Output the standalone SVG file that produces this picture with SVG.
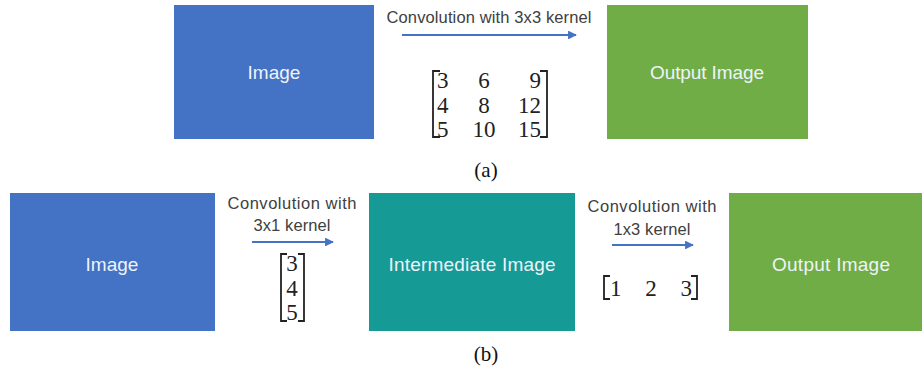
<svg xmlns="http://www.w3.org/2000/svg" width="923" height="374" viewBox="0 0 923 374">
<style>
  .blue{fill:#4472C4}
  .teal{fill:#169A95}
  .green{fill:#70AD47}
  .box-label{font-family:"Liberation Sans","Open Sans",sans-serif;font-size:19px;fill:#EEF3FA;text-anchor:middle}
  .op{font-family:"Liberation Sans","Open Sans",sans-serif;font-size:16.5px;fill:#404040;text-anchor:middle}
  .num{font-family:"Liberation Serif","DejaVu Serif",serif;font-size:23px;fill:#222}
  .cap{font-family:"Liberation Serif","DejaVu Serif",serif;font-size:21px;fill:#111;text-anchor:middle}
  .bracket{fill:none;stroke:#222;stroke-width:1.8}
  .conn{stroke:#4472C4;stroke-width:2.2;fill:none}
</style>
<defs>
  <marker id="head" viewBox="0 0 10 10" refX="9" refY="5" markerWidth="4" markerHeight="4" orient="auto" markerUnits="strokeWidth">
    <path d="M0,0 L10,5 L0,10 z" fill="#4472C4"/>
  </marker>
</defs>
<rect width="923" height="374" fill="#fff"/>

<!-- (a) single 3x3 convolution -->
<g id="a-image">
  <rect class="blue" x="174" y="5" width="200" height="134"/>
  <text class="box-label" x="274" y="79">Image</text>
</g>
<g id="a-output">
  <rect class="green" x="607" y="5" width="201" height="134"/>
  <text class="box-label" x="707" y="79" textLength="114">Output Image</text>
</g>
<g id="a-kernel">
  <text class="op" x="489" y="23" textLength="205">Convolution with 3x3 kernel</text>
  <path class="bracket" d="M440,71 H433 V137 H440 M540,71 H547 V137 H540"/>
  <text class="num" x="437" y="88">3</text>
  <text class="num" x="437" y="113">4</text>
  <text class="num" x="437" y="137">5</text>
  <text class="num" x="484" y="88" text-anchor="middle">6</text>
  <text class="num" x="484" y="113" text-anchor="middle">8</text>
  <text class="num" x="484" y="137" text-anchor="middle">10</text>
  <text class="num" x="541" y="88" text-anchor="end">9</text>
  <text class="num" x="541" y="113" text-anchor="end">12</text>
  <text class="num" x="541" y="137" text-anchor="end">15</text>
</g>
<text class="cap" x="486" y="177">(a)</text>

<!-- (b) separable convolution: 3x1 then 1x3 -->
<g id="b-image">
  <rect class="blue" x="10" y="193" width="205" height="138"/>
  <text class="box-label" x="112" y="271">Image</text>
</g>
<g id="b-intermediate">
  <rect class="teal" x="369" y="193" width="206" height="138"/>
  <text class="box-label" x="472" y="271" textLength="167">Intermediate Image</text>
</g>
<g id="b-output">
  <rect class="green" x="729" y="193" width="193" height="138"/>
  <text class="box-label" x="831" y="271" textLength="118">Output Image</text>
</g>
<g id="b-kernel-col">
  <text class="op" x="292" y="209" textLength="129">Convolution with</text>
  <text class="op" x="292" y="231" textLength="77">3x1 kernel</text>
  <path class="bracket" d="M287,254 H281 V321 H287 M298,254 H304 V321 H298"/>
  <text class="num" x="292" y="271" text-anchor="middle">3</text>
  <text class="num" x="292" y="296" text-anchor="middle">4</text>
  <text class="num" x="292" y="320" text-anchor="middle">5</text>
</g>
<g id="b-kernel-row">
  <text class="op" x="652" y="212" textLength="129">Convolution with</text>
  <text class="op" x="652" y="235" textLength="77">1x3 kernel</text>
  <path class="bracket" d="M610,276 H604 V299 H610 M691,276 H697 V299 H691"/>
  <text class="num" x="610" y="296">1</text>
  <text class="num" x="651" y="296" text-anchor="middle">2</text>
  <text class="num" x="692" y="296" text-anchor="end">3</text>
</g>
<text class="cap" x="486" y="361">(b)</text>

<g id="connectors">
  <line class="conn" x1="402" y1="35" x2="576" y2="35" marker-end="url(#head)"/>
  <line class="conn" x1="252" y1="242" x2="333" y2="242" marker-end="url(#head)"/>
  <line class="conn" x1="612" y1="245" x2="693" y2="245" marker-end="url(#head)"/>
</g>
</svg>
